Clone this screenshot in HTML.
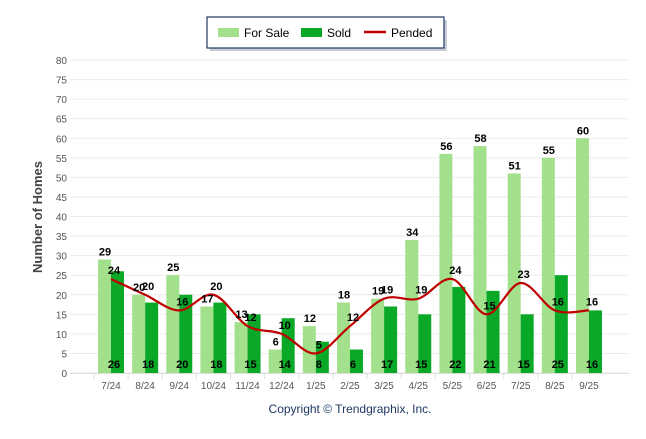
<!DOCTYPE html>
<html><head><meta charset="utf-8"><style>
body{margin:0;background:#fff;font-family:"Liberation Sans",sans-serif}
svg text{font-family:"Liberation Sans",sans-serif}
</style></head><body>
<svg id="c" width="646" height="434" xmlns="http://www.w3.org/2000/svg">
<g>
<rect x="210" y="20" width="237" height="31" fill="#aab" opacity="0.6"/>
<rect x="207" y="17" width="237" height="31" fill="#fff" stroke="#1f3864" stroke-width="1.2"/>
<rect x="218" y="28" width="21" height="9" fill="#a3e08c"/>
<text x="244" y="37" font-size="12">For Sale</text>
<rect x="301" y="28" width="21" height="9" fill="#0aa827"/>
<text x="327" y="37" font-size="12">Sold</text>
<line x1="364" y1="32" x2="386" y2="32" stroke="#c00000" stroke-width="2.5"/>
<text x="391" y="37" font-size="12">Pended</text>
</g>
<text transform="translate(42,217) rotate(-90)" text-anchor="middle" font-size="13" font-weight="bold" fill="#444">Number of Homes</text>
<text x="350" y="413" text-anchor="middle" font-size="12" fill="#1f3864">Copyright © Trendgraphix, Inc.</text>
<g id="grid"></g><g id="bars"></g><g id="line"></g><g id="labels"></g>
</svg>
<script>
const categories=["7/24","8/24","9/24","10/24","11/24","12/24","1/25","2/25","3/25","4/25","5/25","6/25","7/25","8/25","9/25"];
const forSale=[29,20,25,17,13,6,12,18,19,34,56,58,51,55,60];
const sold=[26,18,20,18,15,14,8,6,17,15,22,21,15,25,16];
const pended=[24,20,16,20,12,10,5,12,19,19,24,15,23,16,16];
const yTicks=[0,5,10,15,20,25,30,35,40,45,50,55,60,65,70,75,80];
const NS="http://www.w3.org/2000/svg";
const y=v=>373-v*313/80;
const x=i=>111+i*34.14;
function mk(t,a,p){const e=document.createElementNS(NS,t);for(const k in a)e.setAttribute(k,a[k]);document.getElementById(p).appendChild(e);return e;}
yTicks.forEach(v=>{
 const l=mk('line',{x1:70,x2:629,y1:y(v),y2:y(v),stroke:'#ebebeb'},'grid');
 
 
 const t=mk('text',{x:67,y:y(v)+4,'text-anchor':'end','font-size':10,fill:'#555'},'grid');t.textContent=v;
 
 
});
const ax=mk('line',{x1:70,x2:629,y1:373.5,y2:373.5,stroke:'#ddd'},'grid');


categories.forEach((c,i)=>{
 const tk=mk('line',{x1:x(i)-17,x2:x(i)-17,y1:374,y2:379,stroke:'#ddd'},'grid');
 
 
 const t=mk('text',{x:x(i),y:389,'text-anchor':'middle','font-size':10,fill:'#555'},'grid');t.textContent=c;
 
 
 const b1=mk('rect',{x:x(i)-13,y:y(forSale[i]),width:13,height:373-y(forSale[i]),fill:'#a3e08c'},'bars');
 
 
 const b2=mk('rect',{x:x(i),y:y(sold[i]),width:13,height:373-y(sold[i]),fill:'#0aa827'},'bars');
 
 
 const l1=mk('text',{x:x(i)-6,y:y(forSale[i])-4,'text-anchor':'middle','font-size':11,'font-weight':'bold'},'labels');l1.textContent=forSale[i];
 
 
 const l2=mk('text',{x:x(i)+3,y:368,'text-anchor':'middle','font-size':11,'font-weight':'bold'},'labels');l2.textContent=sold[i];
 
 
 const l3=mk('text',{x:x(i)+3,y:y(pended[i])-5,'text-anchor':'middle','font-size':11,'font-weight':'bold'},'labels');l3.textContent=pended[i];
 
 
});
// smooth line (Catmull-Rom)
const P=pended.map((v,i)=>[x(i),y(v)]);
let d=`M${P[0][0]},${P[0][1]}`;
for(let i=0;i<P.length-1;i++){
 const p0=P[i-1]||P[i],p1=P[i],p2=P[i+1],p3=P[i+2]||P[i+1];
 d+=` C${p1[0]+(p2[0]-p0[0])/6},${p1[1]+(p2[1]-p0[1])/6} ${p2[0]-(p3[0]-p1[0])/6},${p2[1]-(p3[1]-p1[1])/6} ${p2[0]},${p2[1]}`;
}
const pl=mk('path',{d:d,fill:'none',stroke:'#c00000','stroke-width':2.2},'line');


</script>
</body></html>
